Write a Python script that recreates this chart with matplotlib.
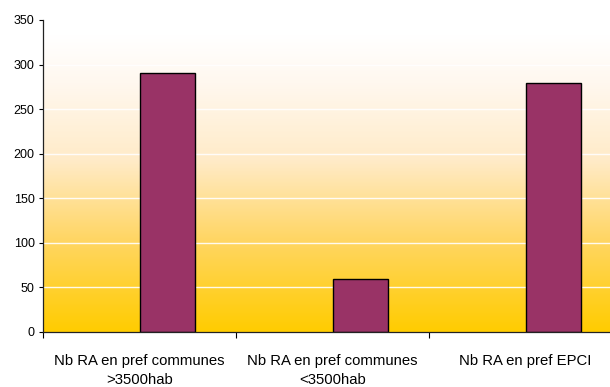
import matplotlib
matplotlib.use("Agg")
import matplotlib.pyplot as plt
import numpy as np
from matplotlib.colors import LinearSegmentedColormap

categories = ["Nb RA en pref communes\n>3500hab",
              "Nb RA en pref communes\n<3500hab",
              "Nb RA en pref EPCI"]
values = [290, 59, 279]
yticks = [0, 50, 100, 150, 200, 250, 300, 350]

plt.rcParams['font.family'] = ['Liberation Sans', 'DejaVu Sans']

fig = plt.figure(figsize=(6.10, 3.87), dpi=100)
fig.patch.set_facecolor('white')
W, H = 610, 387
left, right = 43 / W, 622 / W
bottom, top = 1 - 332 / H, 1 - 20 / H
ax = fig.add_axes([left, bottom, right - left, top - bottom])

x = np.arange(len(categories))

# gradient background (bottom gold -> top white)
cmap = LinearSegmentedColormap.from_list(
    "g", [(0.0, "#FFCC00"), (0.3, "#FFD665"), (0.55, "#FFEBC8"),
          (0.8, "#FFF8EF"), (0.95, "#FFFFFF"), (1.0, "#FFFFFF")])
grad = np.linspace(0, 1, 256).reshape(-1, 1)
ax.imshow(grad, aspect='auto', cmap=cmap, extent=[-0.5, 2.5, 0, 350],
          origin='lower', zorder=0, vmin=0, vmax=1)
ax.set_xlim(-0.5, 2.5)
ax.set_ylim(0, 350)

for yv in yticks[1:]:
    ax.axhline(yv, color='white', lw=1.0, alpha=0.9, zorder=1)

bw = 0.285
ax.bar(x + bw / 2, values, width=bw, color='#993366', edgecolor='black',
       linewidth=1.0, zorder=2)

ax.set_yticks(yticks)
ax.set_yticklabels([str(v) for v in yticks], fontsize=9)
ax.set_xticks([-0.5, 0.5, 1.5, 2.5])
ax.set_xticklabels([])
ax.set_xticks(x, minor=True)
ax.set_xticklabels(categories, minor=True, fontsize=10.7, linespacing=1.5)
ax.tick_params(axis='x', which='minor', length=0, pad=15.5)
ax.tick_params(axis='x', which='major', length=4.5, width=0.8, direction='out')
ax.tick_params(axis='y', length=3, width=0.8, direction='out', pad=3)

for s in ['top', 'right']:
    ax.spines[s].set_visible(False)
for s in ['left', 'bottom']:
    ax.spines[s].set_color('#222222')
    ax.spines[s].set_linewidth(0.9)
    ax.spines[s].set_zorder(3)

fig.savefig("out.png", dpi=100)
